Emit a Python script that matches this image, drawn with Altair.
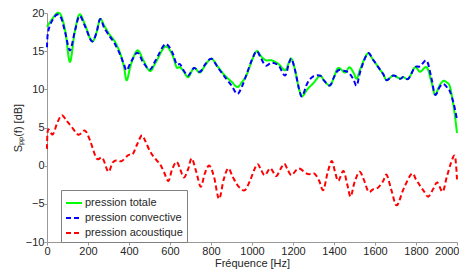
import altair as alt
import pandas as pd

# ---- data ----
freq_totale = [0, 25, 50, 70, 90, 112, 135, 158, 185, 218, 240, 259, 280, 307, 330, 356, 375, 389, 410, 441,
               470, 502, 530, 576, 610, 632, 649, 668, 689, 717, 746, 775, 803, 835, 868, 900, 928, 950, 974, 1000,
               1023, 1045, 1068, 1096, 1130, 1161, 1180, 1193, 1210, 1230, 1245, 1270, 1299, 1332, 1350, 1380, 1400,
               1421, 1454, 1475, 1495, 1511, 1530, 1564, 1590, 1616, 1640, 1657, 1689, 1722, 1738, 1763, 1795, 1820,
               1852, 1875, 1893, 1915, 1933, 1950, 1966, 1985, 2000]
val_totale = [18.2, 19.2, 20.0, 19.6, 17.5, 13.6, 17.5, 19.8, 18.5, 16.3, 17.3, 19.2, 18.3, 17.1, 16.3, 14.8, 13.0, 11.2, 13.3, 15.1,
              13.8, 12.4, 13.5, 15.6, 14.6, 12.9, 12.9, 12.3, 11.6, 12.8, 12.2, 13.3, 14.0, 12.9, 11.8, 11.0, 10.3, 10.9, 11.9, 13.8,
              15.0, 14.3, 13.8, 13.8, 13.3, 12.5, 13.5, 14.0, 12.5, 10.0, 9.1, 10.0, 10.8, 11.8, 11.2, 10.5, 11.6,
              12.8, 12.2, 12.9, 12.2, 11.4, 12.8, 14.7, 13.9, 12.9, 12.0, 11.2, 11.8, 11.4, 11.6, 11.4, 12.9, 12.3,
              12.9, 11.0, 9.3, 10.5, 11.1, 10.9, 10.3, 7.5, 4.3]

freq_conv = [0, 5, 25, 50, 70, 90, 112, 135, 158, 185, 218, 240, 259, 280, 307, 330, 356, 375, 389, 410, 441,
             470, 502, 530, 576, 610, 632, 649, 668, 689, 717, 746, 775, 803, 835, 868, 900, 928, 950, 974, 1000,
             1023, 1045, 1068, 1096, 1130, 1161, 1180, 1193, 1210, 1230, 1245, 1270, 1299, 1332, 1350, 1380, 1400,
             1421, 1454, 1475, 1495, 1511, 1530, 1564, 1590, 1616, 1640, 1657, 1689, 1722, 1738, 1763, 1795, 1820,
             1852, 1875, 1893, 1915, 1933, 1950, 1966, 1985, 2000]
val_conv = [15.5, 17.5, 19.0, 19.8, 19.3, 17.3, 15.1, 17.5, 19.6, 18.3, 16.3, 17.3, 19.2, 18.0, 16.9, 16.0, 14.6, 13.3, 12.5, 13.6, 14.8,
            13.5, 12.6, 13.8, 15.9, 14.9, 13.3, 13.3, 12.4, 11.8, 12.8, 12.3, 13.4, 14.0, 12.8, 11.6, 10.5, 9.4, 10.3, 12.0, 13.9,
            15.0, 14.0, 13.1, 13.5, 13.1, 11.8, 13.4, 14.0, 12.5, 10.0, 9.1, 10.8, 11.7, 11.8, 11.2, 10.5, 11.6,
            12.5, 12.4, 12.1, 11.3, 10.5, 12.5, 14.7, 13.9, 12.9, 12.0, 11.2, 11.8, 11.4, 11.6, 11.4, 12.9, 13.0,
            13.75, 11.5, 9.3, 10.3, 10.7, 10.3, 9.7, 8.0, 6.0]

freq_acou = [0, 5, 28, 50, 72, 95, 120, 153, 185, 210, 242, 271, 299, 320, 340, 364, 397, 418, 440, 462, 480, 502,
             525, 551, 570, 592, 610, 632, 650, 668, 688, 706, 728, 750, 770, 792, 815, 839, 862, 884, 905, 925, 945,
             966, 990, 1010, 1028, 1045, 1063, 1088, 1105, 1120, 1140, 1158, 1175, 1193, 1215, 1234, 1267, 1290, 1307,
             1328, 1348, 1368, 1389, 1405, 1421, 1446, 1465, 1481, 1500, 1524, 1545, 1568, 1590, 1616, 1640, 1657,
             1680, 1706, 1740, 1779, 1800, 1820, 1840, 1860, 1885, 1904, 1930, 1950, 1970, 1990, 2000]
val_acou = [2.2, 4.7, 4.1, 5.6, 6.6, 5.9, 5.1, 4.05, 4.6, 3.3, 0.95, 1.0, -0.8, 0.4, 0.7, 0.6, 1.4, 1.5, 2.8, 3.95, 3.2, 1.9,
            1.0, 0.2, -0.8, -2.0, -0.5, 0.5, -0.5, -1.55, -0.5, 0.95, -0.8, -2.75, -1.0, 0.0, -1.5, -4.35, -1.8, -0.35, -1.4, -2.4, -3.0,
            -3.2, -2.0, -0.6, 0.2, -0.6, -1.25, -0.35, -0.9, -1.35, -0.4, 0.25, -0.6, -1.25, -0.6, -0.4, -1.05, -1.1, -1.1,
            -2.0, -3.2, -1.0, 0.6, -0.8, -2.0, -0.7, -2.5, -4.05, -2.2, -0.8, -1.8, -3.4, -3.1, -2.85, -2.0, -1.2,
            -3.2, -5.2, -3.0, -1.05, -1.8, -2.65, -3.4, -4.05, -3.0, -2.2, -3.4, -1.5, 0.3, 1.25, -1.8]

series_names = ["pression totale", "pression convective", "pression acoustique"]
series_colors = ["#00ff00", "#0000ff", "#ff0000"]
x_ticks = list(range(0, 2001, 200))
y_ticks = list(range(-10, 21, 5))

rows = []
for name, fs, vs in zip(series_names, [freq_totale, freq_conv, freq_acou], [val_totale, val_conv, val_acou]):
    for i, (f, v) in enumerate(zip(fs, vs)):
        rows.append({"serie": name, "f": f, "v": v, "order": i})
df = pd.DataFrame(rows)

font = "Liberation Sans"
H = 229
W = 410

chart = alt.Chart(df).mark_line(interpolate="cardinal", strokeWidth=2).encode(
    x=alt.X("f:Q", scale=alt.Scale(domain=[0, 2000], nice=False),
            axis=alt.Axis(title="Fréquence [Hz]", values=x_ticks, format="d", grid=False, labelFlush=False,
                          labelOverlap=False, titlePadding=1,
                          labelAlign=alt.ExprRef("datum.value == 2000 ? 'right' : 'center'"),
                          labelOffset=alt.ExprRef("datum.value == 2000 ? 2 : 0"))),
    y=alt.Y("v:Q", scale=alt.Scale(domain=[-10, 20], nice=False),
            axis=alt.Axis(title="Sₚₚ(f) [dB]", values=y_ticks, grid=False,
                          titleX=-29, titleY=H / 2, titleAngle=270, titleBaseline="middle",
                          titleAlign="center")),
    color=alt.Color("serie:N", sort=series_names,
                    scale=alt.Scale(domain=series_names, range=series_colors),
                    legend=alt.Legend(title=None, orient="none", legendX=14, legendY=177,
                                      fillColor="white", strokeColor="#808080", padding=4,
                                      symbolType="stroke", symbolSize=256, symbolStrokeWidth=2,
                                      labelFontSize=11, labelFont=font, rowPadding=1,
                                      labelOffset=2, labelColor="#262626")),
    strokeDash=alt.StrokeDash("serie:N", sort=series_names,
                              scale=alt.Scale(domain=series_names, range=[[1, 0], [5, 3], [5, 3]]),
                              legend=None),
    detail="serie:N",
    order="order:Q",
).properties(
    width=W, height=H,
    autosize=alt.AutoSizeParams(type="none"),
    padding={"left": 39, "top": 5, "right": 2, "bottom": 28},
).configure_view(stroke=None).configure_axis(
    domainColor="#999999", tickColor="#999999", tickSize=3,
    labelFont=font, titleFont=font, labelFontSize=11, titleFontSize=11,
    labelColor="#262626", titleColor="#262626", titleFontWeight="normal",
    labelPadding=0,
)

chart.save("out.html", embed_options={"renderer": "svg", "actions": False})
